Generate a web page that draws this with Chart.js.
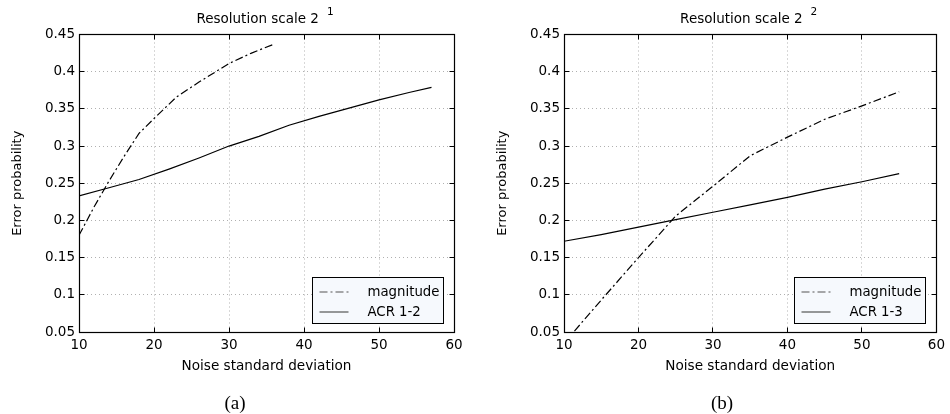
<!DOCTYPE html>
<html><head><meta charset="utf-8">
<script src="https://cdn.jsdelivr.net/npm/chart.js@4.4.1/dist/chart.umd.min.js"></script>
<style>
html,body{margin:0;padding:0;background:#fff;}
#wrap{position:relative;width:950px;height:414px;overflow:hidden;background:#fff;}
.cv{position:absolute;top:0;width:475px;height:414px;}
.cap{position:absolute;top:391px;font-family:"Liberation Serif",serif;font-size:19px;color:#000;transform:translateX(-50%);line-height:24px;white-space:nowrap;}
</style></head><body>
<div id="wrap">
<div class="cv" style="left:0"><canvas id="c1" width="475" height="414"></canvas></div>
<div class="cv" style="left:475px"><canvas id="c2" width="475" height="414"></canvas></div>
<div class="cap" style="left:235px">(a)</div>
<div class="cap" style="left:722px">(b)</div>
</div>
<script>
// ---- data ----
const xTicks = [10, 20, 30, 40, 50, 60];
const xTickLabels = ['10', '20', '30', '40', '50', '60'];
const yTicks = [0.05, 0.1, 0.15, 0.2, 0.25, 0.3, 0.35, 0.4, 0.45];
const yTickLabels = ['0.05', '0.1', '0.15', '0.2', '0.25', '0.3', '0.35', '0.4', '0.45'];

// (a) Resolution scale 2^1
const magX_a = [10, 12, 14, 16, 18, 20, 23, 26, 30, 33, 36];
const magY_a = [0.180, 0.218, 0.253, 0.286, 0.317, 0.337, 0.366, 0.386, 0.411, 0.425, 0.437];
const acrX_a = [10, 14, 18, 22, 26, 30, 34, 38, 42, 46, 50, 54, 57];
const acrY_a = [0.233, 0.244, 0.255, 0.269, 0.284, 0.300, 0.313, 0.328, 0.340, 0.351, 0.362, 0.372, 0.379];

// (b) Resolution scale 2^2
const magX_b = [10, 15, 20, 25, 30, 35, 40, 45, 50, 55];
const magY_b = [0.035, 0.093, 0.150, 0.206, 0.246, 0.287, 0.312, 0.336, 0.354, 0.373];
const acrX_b = [10, 15, 20, 25, 30, 35, 40, 45, 50, 55];
const acrY_b = [0.172, 0.181, 0.191, 0.201, 0.211, 0.221, 0.231, 0.242, 0.252, 0.263];

const legendA = ['magnitude', 'ACR 1-2'];
const legendB = ['magnitude', 'ACR 1-3'];

const FAM = "'DejaVu Sans', sans-serif";
const DASHDOT = [8, 3, 2, 3];

function pts(xs, ys) { return xs.map((x, i) => ({x: x, y: ys[i]})); }

const decorPlugin = {
  id: 'decor',
  afterDraw(chart, args, o) {
    const ctx = chart.ctx, a = chart.chartArea;
    const xs = chart.scales.x, ys = chart.scales.y;
    const L = Math.floor(a.left) + 0.5, R = Math.floor(a.right) + 0.5;
    const T = Math.floor(a.top) + 0.5, B = Math.floor(a.bottom) + 0.5;
    ctx.save();
    ctx.strokeStyle = '#000';
    ctx.lineWidth = 1;
    ctx.setLineDash([]);
    // inward tick marks
    const tl = 5;
    ctx.beginPath();
    xs.ticks.forEach(t => {
      const p = Math.floor(xs.getPixelForValue(t.value)) + 0.5;
      ctx.moveTo(p, B); ctx.lineTo(p, B - tl);
      ctx.moveTo(p, T); ctx.lineTo(p, T + tl);
    });
    ys.ticks.forEach(t => {
      const p = Math.floor(ys.getPixelForValue(t.value)) + 0.5;
      ctx.moveTo(L, p); ctx.lineTo(L + tl, p);
      ctx.moveTo(R, p); ctx.lineTo(R - tl, p);
    });
    ctx.stroke();
    // frame
    ctx.lineWidth = 1.2;
    ctx.strokeRect(L, T, R - L, B - T);
    ctx.lineWidth = 1;

    // title with superscript
    ctx.fillStyle = '#000';
    ctx.textBaseline = 'alphabetic';
    ctx.textAlign = 'left';
    const mainFont = '13.5px ' + FAM, supFont = '10.5px ' + FAM;
    ctx.font = mainFont;
    const w1 = ctx.measureText(o.title).width;
    ctx.font = supFont;
    const w2 = ctx.measureText(o.sup).width;
    const gap = 8;
    const cx = (a.left + a.right) / 2 - 1.5;
    const x0 = cx - (w1 + gap + w2) / 2;
    ctx.font = mainFont;
    ctx.fillText(o.title, x0, 22.7);
    ctx.font = supFont;
    ctx.fillText(o.sup, x0 + w1 + gap, 15.3);

    // legend box
    const bw = 131, bh = 46;
    const bx = Math.floor(a.right - 11 - bw) + 0.5;
    const by = Math.floor(a.bottom - 9 - bh) + 0.5;
    ctx.fillStyle = '#f6f9fd';
    ctx.fillRect(bx, by, bw, bh);
    ctx.strokeStyle = '#000';
    ctx.strokeRect(bx, by, bw, bh);
    chart.data.datasets.forEach((ds, i) => {
      const ly = by + 14.5 + i * 20;
      ctx.beginPath();
      ctx.strokeStyle = '#555';
      ctx.lineWidth = ds.borderWidth;
      ctx.setLineDash(ds.borderDash || []);
      ctx.moveTo(bx + 7, ly); ctx.lineTo(bx + 36, ly);
      ctx.stroke();
      ctx.setLineDash([]);
      ctx.fillStyle = '#000';
      ctx.font = '13.3px ' + FAM;
      ctx.textBaseline = 'middle';
      ctx.fillText(ds.label, bx + 55, ly + 0.5);
    });
    ctx.restore();
  }
};

function makeChart(id, opt) {
  const tickFont = {family: FAM, size: 13.5};
  return new Chart(document.getElementById(id), {
    type: 'line',
    data: {
      datasets: [
        {label: opt.labels[0], data: pts(opt.magX, opt.magY), borderColor: '#000', borderWidth: 1.2,
         borderDash: DASHDOT, pointRadius: 0, fill: false, tension: 0},
        {label: opt.labels[1], data: pts(opt.acrX, opt.acrY), borderColor: '#000', borderWidth: 1.2,
         pointRadius: 0, fill: false, tension: 0}
      ]
    },
    options: {
      responsive: false,
      animation: false,
      devicePixelRatio: 1,
      events: [],
      layout: {padding: {left: 0, right: opt.padRight, top: 34.5, bottom: 24}},
      plugins: {
        legend: {display: false},
        tooltip: {enabled: false},
        title: {display: false},
        decor: {title: opt.title, sup: opt.sup}
      },
      scales: {
        x: {
          type: 'linear', min: 10, max: 60,
          afterBuildTicks: s => { s.ticks = xTicks.map(v => ({value: v})); },
          afterFit: s => { s.height = 58; },
          grid: {color: '#b0b0b0', lineWidth: 1, drawTicks: false, borderDash: [1, 3]},
          border: {display: false, dash: [1, 3]},
          ticks: {padding: 5, color: '#000', font: tickFont, maxRotation: 0,
                  callback: (v, i) => xTickLabels[i]},
          title: {display: true, text: 'Noise standard deviation', color: '#000',
                  font: {family: FAM, size: 13.6}, padding: {top: 0, bottom: 15}}
        },
        y: {
          type: 'linear', min: 0.05, max: 0.45,
          afterBuildTicks: s => { s.ticks = yTicks.map(v => ({value: v})); },
          afterFit: s => { s.width = opt.yWidth; },
          grid: {color: '#b0b0b0', lineWidth: 1, drawTicks: false, borderDash: [1, 3]},
          border: {display: false, dash: [1, 3]},
          ticks: {padding: 4, color: '#000', font: tickFont,
                  callback: (v, i) => yTickLabels[i]},
          title: {display: true, text: 'Error probability', color: '#000',
                  font: {family: FAM, size: 13}, padding: {top: opt.yTitlePad, bottom: 0}}
        }
      }
    },
    plugins: [decorPlugin]
  });
}

makeChart('c1', {magX: magX_a, magY: magY_a, acrX: acrX_a, acrY: acrY_a, labels: legendA,
  title: 'Resolution scale 2', sup: '1', padRight: 21, yWidth: 79, yTitlePad: 10});
makeChart('c2', {magX: magX_b, magY: magY_b, acrX: acrX_b, acrY: acrY_b, labels: legendB,
  title: 'Resolution scale 2', sup: '2', padRight: 9, yWidth: 89, yTitlePad: 20});
</script>
</body></html>
